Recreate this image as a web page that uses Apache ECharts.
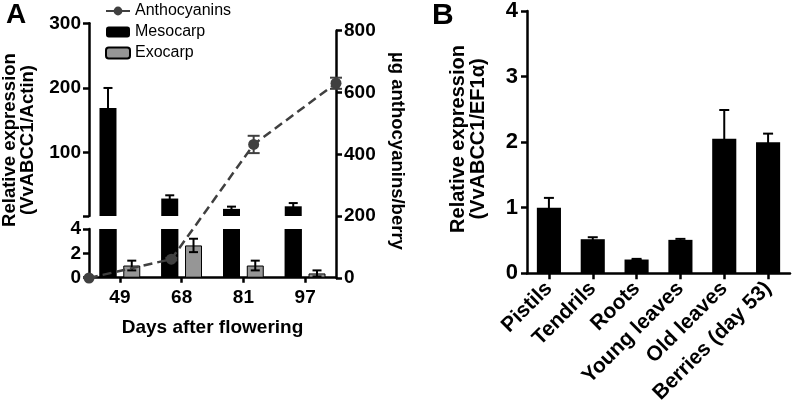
<!DOCTYPE html>
<html>
<head>
<meta charset="utf-8">
<script src="https://cdn.jsdelivr.net/npm/echarts@6/dist/echarts.min.js"></script>
<style>html,body{margin:0;padding:0;background:#fff}#c{width:793px;height:409px}</style>
</head>
<body>
<div id="c"></div>
<script>
// ---- Panel A data ----
const daysA = ['49', '68', '81', '97'];
const mesocarp = [169, 29, 13, 17];
const mesocarpErr = [31, 5, 3.5, 5];
const exocarp = [1.0, 2.65, 1.0, 0.35];
const exocarpErr = [0.4, 0.55, 0.4, 0.25];
const anthocyanins = [0, 61, 432, 630];
const anthocyaninsErr = [0, 4, 28, 18];
const upperTicksA = [100, 200, 300];
const lowerMaxA = 4;
// ---- Panel B data ----
const tissuesB = ['Pistils', 'Tendrils', 'Roots', 'Young leaves', 'Old leaves', 'Berries (day 53)'];
const expressionB = [1.0, 0.52, 0.21, 0.51, 2.05, 2.0];
const expressionBErr = [0.15, 0.03, 0.01, 0.015, 0.44, 0.13];

const FONT = '"Liberation Sans", Arial, sans-serif';
const LBL = { color: '#000', fontFamily: FONT, fontWeight: 'bold', fontSize: 19 };
const LBLB = { color: '#000', fontFamily: FONT, fontWeight: 'bold', fontSize: 22 };
const AXL = { show: true, lineStyle: { color: '#000', width: 2.5 } };
const TICK = { show: true, length: 6, lineStyle: { color: '#000', width: 2.5 } };
const CAT_GAP_A = 0.34, BAR_GAP_A = 0.4;
const barW = (1 - CAT_GAP_A) / (2 + BAR_GAP_A);
const offA = (1 + BAR_GAP_A) * barW / 2;

function errRender(offsetFrac, capHalf, color, width) {
  return function (params, api) {
    const i = api.value(0), v = api.value(1), e = api.value(2);
    const band = api.size([1, 0])[0];
    const hi = api.coord([i, v + e]);
    const lo = api.coord([i, v - e]);
    const x = hi[0] + offsetFrac * band;
    const style = { stroke: color, lineWidth: width };
    return { type: 'group', children: [
      { type: 'line', shape: { x1: x, y1: lo[1], x2: x, y2: hi[1] }, style },
      { type: 'line', shape: { x1: x - capHalf, y1: hi[1], x2: x + capHalf, y2: hi[1] }, style },
      { type: 'line', shape: { x1: x - capHalf, y1: lo[1], x2: x + capHalf, y2: lo[1] }, style }
    ] };
  };
}
function clippedBar(offsetFrac, widthFrac, fill) {
  return function (params, api) {
    const i = api.value(0), v = api.value(1);
    const band = api.size([1, 0])[0];
    const base = api.coord([i, 0]);
    const top = api.coord([i, v]);
    const w = band * widthFrac;
    const cs = params.coordSys;
    const rect = echarts.graphic.clipRectByRect(
      { x: base[0] + offsetFrac * band - w / 2, y: top[1], width: w, height: base[1] - top[1] },
      { x: cs.x, y: cs.y, width: cs.width, height: cs.height });
    return rect ? { type: 'rect', shape: rect, style: { fill } } : null;
  };
}
const tri = (vals, errs) => vals.map((v, i) => [i, v, errs[i]]);

const barCommon = { barCategoryGap: (CAT_GAP_A * 100) + '%', barGap: (BAR_GAP_A * 100) + '%' };
const chart = echarts.init(document.getElementById('c'), null, { renderer: 'canvas' });
chart.setOption({
  animation: false,
  title: [
    { text: 'A', left: 1, top: -4, textStyle: { fontFamily: FONT, fontWeight: 'bold', fontSize: 28, color: '#000' } },
    { text: 'B', left: 427, top: -4, textStyle: { fontFamily: FONT, fontWeight: 'bold', fontSize: 30, color: '#000' } }
  ],
  legend: {
    data: ['Anthocyanins', 'Mesocarp', 'Exocarp'],
    orient: 'vertical', left: 100, top: -2, itemWidth: 24, itemHeight: 11, itemGap: 5,
    textStyle: { fontFamily: FONT, fontSize: 16, color: '#000' },
    lineStyle: { type: 'solid' }
  },
  grid: [
    { left: 89, top: 23.3, width: 247, height: 192.7 },
    { left: 89, top: 229, width: 247, height: 48.7 },
    { left: 89, top: 30.7, width: 247, height: 247.3 },
    { left: 527, top: 10, width: 263, height: 263.3 },
    { left: 89, top: 229, width: 247, height: 48.7 }
  ],
  xAxis: [
    { gridIndex: 0, type: 'category', data: daysA, show: false },
    { gridIndex: 1, type: 'category', data: daysA, axisLine: AXL, axisTick: { ...TICK, alignWithLabel: true, length: 5 },
      axisLabel: { ...LBL, margin: 11 }, name: 'Days after flowering', nameLocation: 'middle', nameGap: 41,
      nameTextStyle: { ...LBL } },
    { gridIndex: 2, type: 'category', data: daysA, boundaryGap: false, show: false },
    { gridIndex: 3, type: 'category', data: tissuesB, axisLine: AXL, axisTick: { ...TICK, alignWithLabel: true },
      axisLabel: { ...LBLB, fontSize: 21, rotate: 45, margin: 12, interval: 0 } },
    { gridIndex: 4, type: 'category', data: daysA, show: false }
  ],
  yAxis: [
    { gridIndex: 0, type: 'value', min: 2, max: 300, position: 'left', splitLine: { show: false },
      axisLine: AXL, axisTick: { ...TICK, customValues: [2].concat(upperTicksA) },
      axisLabel: { ...LBL, margin: 8, customValues: upperTicksA } },
    { gridIndex: 1, type: 'value', min: 0, max: lowerMaxA, interval: 2, position: 'left', splitLine: { show: false },
      axisLine: AXL, axisTick: TICK, axisLabel: { ...LBL, margin: 8 } },
    { gridIndex: 2, type: 'value', min: 0, max: 800, interval: 200, position: 'right', splitLine: { show: false },
      axisLine: AXL, axisTick: TICK, axisLabel: { ...LBL, margin: 8 } },
    { gridIndex: 3, type: 'value', min: 0, max: 4, interval: 1, position: 'left', splitLine: { show: false },
      axisLine: AXL, axisTick: TICK, axisLabel: { ...LBLB, margin: 9 } },
    { gridIndex: 4, type: 'value', min: 0, max: lowerMaxA, show: false, splitLine: { show: false } }
  ],
  series: [
    { id: 'mesoHigh', name: 'Mesocarp', type: 'bar', xAxisIndex: 0, yAxisIndex: 0, data: mesocarp,
      ...barCommon, itemStyle: { color: '#000' } },
    { id: 'exoHigh', name: 'Exocarp', type: 'bar', xAxisIndex: 0, yAxisIndex: 0, data: daysA.map(() => '-'),
      ...barCommon, itemStyle: { color: '#969696', borderColor: '#000', borderWidth: 1 } },
    { id: 'mesoLow', name: 'Mesocarp', type: 'bar', xAxisIndex: 4, yAxisIndex: 4, data: mesocarp,
      ...barCommon, itemStyle: { color: '#000' } },
    { id: 'exoLowSlot', name: 'Exocarp', type: 'bar', xAxisIndex: 4, yAxisIndex: 4, data: daysA.map(() => '-'),
      ...barCommon, itemStyle: { color: '#969696', borderColor: '#000', borderWidth: 1 } },
    { id: 'mesoLowSlot', name: 'Mesocarp', type: 'bar', xAxisIndex: 1, yAxisIndex: 1, data: daysA.map(() => '-'),
      ...barCommon, itemStyle: { color: '#000' } },
    { id: 'exoLow', name: 'Exocarp', type: 'bar', xAxisIndex: 1, yAxisIndex: 1, z: 3, data: exocarp,
      ...barCommon, itemStyle: { color: '#969696', borderColor: '#000', borderWidth: 1 } },
    { id: 'mesoLowRect', name: 'mesoLowRect', type: 'custom', xAxisIndex: 4, yAxisIndex: 4, z: 2,
      renderItem: clippedBar(-offA, barW, '#000'), data: mesocarp.map((v, i) => [i, v]) },
    { name: 'mesoErr', type: 'custom', xAxisIndex: 0, yAxisIndex: 0, z: 5,
      renderItem: errRender(-offA, 4.5, '#000', 2), data: tri(mesocarp, mesocarpErr) },
    { name: 'exoErr', type: 'custom', xAxisIndex: 1, yAxisIndex: 1, z: 5,
      renderItem: errRender(offA, 4.5, '#000', 2), data: tri(exocarp, exocarpErr) },
    { name: 'anthoErr', type: 'custom', xAxisIndex: 2, yAxisIndex: 2, z: 6,
      renderItem: errRender(0, 6, '#404040', 2), data: tri(anthocyanins, anthocyaninsErr) },
    { name: 'Anthocyanins', type: 'line', xAxisIndex: 2, yAxisIndex: 2, z: 7, data: anthocyanins,
      symbol: 'circle', symbolSize: 11, itemStyle: { color: '#404040' },
      lineStyle: { color: '#404040', width: 2.5, type: [9, 5] } },
    { name: 'tissue', type: 'bar', xAxisIndex: 3, yAxisIndex: 3, data: expressionB,
      barCategoryGap: '45%', itemStyle: { color: '#000' } },
    { name: 'tissueErr', type: 'custom', xAxisIndex: 3, yAxisIndex: 3, z: 5,
      renderItem: errRender(0, 5, '#000', 2), data: tri(expressionB, expressionBErr) }
  ],
  graphic: [
    { type: 'text', x: 18.5, y: 140, rotation: Math.PI / 2,
      style: { text: 'Relative expression\n(VvABCC1/Actin)', fontFamily: FONT, fontWeight: 'bold', fontSize: 18.5,
        lineHeight: 18, fill: '#000', align: 'center', verticalAlign: 'middle' } },
    { type: 'text', x: 397, y: 151, rotation: -Math.PI / 2,
      style: { text: 'µg anthocyanins/berry', fontFamily: FONT, fontWeight: 'bold', fontSize: 18.5,
        fill: '#000', align: 'center', verticalAlign: 'middle' } },
    { type: 'text', x: 468, y: 139, rotation: Math.PI / 2,
      style: { text: 'Relative expression\n(VvABCC1/EF1α)', fontFamily: FONT, fontWeight: 'bold', fontSize: 20,
        lineHeight: 20, fill: '#000', align: 'center', verticalAlign: 'middle' } }
  ]
});
</script>
</body>
</html>
